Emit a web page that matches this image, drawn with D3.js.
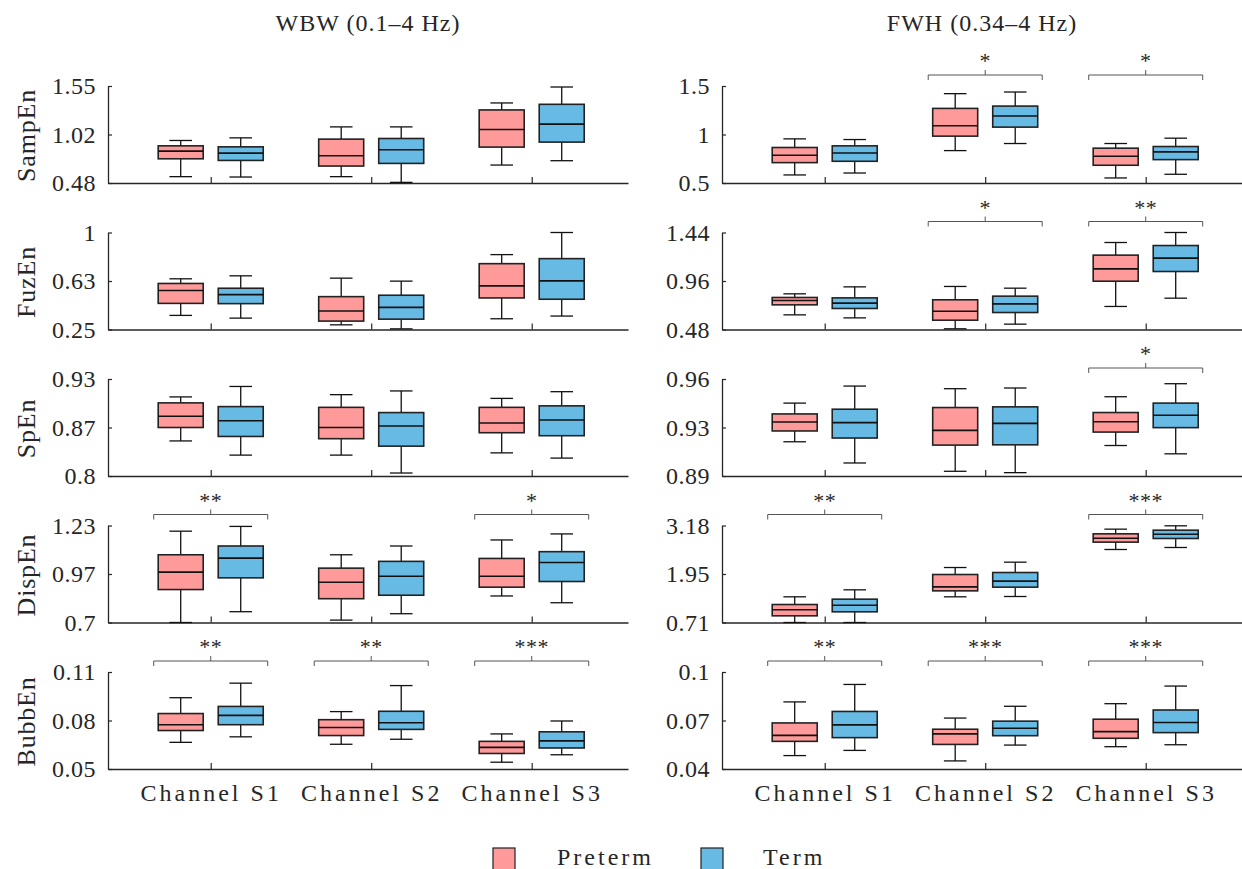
<!DOCTYPE html>
<html>
<head>
<meta charset="utf-8">
<script src="https://cdn.jsdelivr.net/npm/d3@7"></script>
<style>
  body { margin: 0; background: #fff; }
  svg text { font-family: "Liberation Serif", serif; fill: #262626; }
</style>
</head>
<body>
<div id="chart"></div>
<script>
// Categories
const channels = ["Channel S1", "Channel S2", "Channel S3"];
const groups = ["Preterm", "Term"];
const measures = ["SampEn", "FuzEn", "SpEn", "DispEn", "BubbEn"];
const bands = ["WBW (0.1–4 Hz)", "FWH (0.34–4 Hz)"];

// Y ranges and tick labels per row (min, max)
const yRangeWBW = [[0.48, 1.55], [0.25, 1], [0.8, 0.93], [0.7, 1.23], [0.05, 0.11]];
const yTicksWBW = [["0.48", "1.02", "1.55"], ["0.25", "0.63", "1"], ["0.8", "0.87", "0.93"], ["0.7", "0.97", "1.23"], ["0.05", "0.08", "0.11"]];
const yRangeFWH = [[0.5, 1.5], [0.48, 1.44], [0.89, 0.96], [0.71, 3.18], [0.04, 0.1]];
const yTicksFWH = [["0.5", "1", "1.5"], ["0.48", "0.96", "1.44"], ["0.89", "0.93", "0.96"], ["0.71", "1.95", "3.18"], ["0.04", "0.07", "0.1"]];

// Box stats: per channel [preterm, term], each [low whisker, q1, median, q3, high whisker]
const sampEnWBW = [
  [[0.550, 0.747, 0.832, 0.890, 0.949], [0.546, 0.729, 0.810, 0.879, 0.978]],
  [[0.550, 0.667, 0.780, 0.964, 1.099], [0.487, 0.696, 0.846, 0.971, 1.099]],
  [[0.678, 0.876, 1.070, 1.286, 1.363], [0.726, 0.931, 1.129, 1.348, 1.539]]
];
const fuzEnWBW = [
  [[0.359, 0.452, 0.551, 0.606, 0.642], [0.338, 0.450, 0.520, 0.569, 0.665]],
  [[0.286, 0.315, 0.393, 0.504, 0.647], [0.255, 0.330, 0.421, 0.515, 0.624]],
  [[0.333, 0.494, 0.587, 0.759, 0.829], [0.354, 0.484, 0.626, 0.798, 1.000]]
];
const spEnWBW = [
  [[0.847, 0.865, 0.880, 0.898, 0.906], [0.828, 0.853, 0.874, 0.893, 0.920]],
  [[0.828, 0.850, 0.865, 0.892, 0.909], [0.804, 0.840, 0.867, 0.885, 0.914]],
  [[0.831, 0.858, 0.871, 0.892, 0.904], [0.824, 0.854, 0.875, 0.894, 0.913]]
];
const dispEnWBW = [
  [[0.700, 0.880, 0.975, 1.070, 1.199], [0.759, 0.944, 1.052, 1.118, 1.225]],
  [[0.713, 0.830, 0.920, 0.997, 1.070], [0.748, 0.849, 0.953, 1.034, 1.118]],
  [[0.845, 0.893, 0.953, 1.050, 1.151], [0.808, 0.924, 1.028, 1.087, 1.184]]
];
const bubbEnWBW = [
  [[0.0665, 0.0738, 0.0774, 0.0843, 0.0941], [0.0699, 0.0774, 0.0832, 0.0887, 0.1031]],
  [[0.0653, 0.0707, 0.0757, 0.0805, 0.0855], [0.0684, 0.0745, 0.0786, 0.0857, 0.1016]],
  [[0.0542, 0.0596, 0.0634, 0.0671, 0.0717], [0.0588, 0.0630, 0.0674, 0.0730, 0.0797]]
];
const sampEnFWH = [
  [[0.583, 0.710, 0.786, 0.866, 0.955], [0.603, 0.724, 0.810, 0.883, 0.948]],
  [[0.834, 0.983, 1.090, 1.269, 1.421], [0.907, 1.076, 1.190, 1.293, 1.438]],
  [[0.552, 0.683, 0.776, 0.859, 0.907], [0.590, 0.741, 0.821, 0.876, 0.962]]
];
const fuzEnFWH = [
  [[0.625, 0.724, 0.767, 0.797, 0.833], [0.595, 0.688, 0.741, 0.793, 0.902]],
  [[0.487, 0.572, 0.661, 0.774, 0.906], [0.533, 0.648, 0.734, 0.810, 0.889]],
  [[0.708, 0.958, 1.080, 1.216, 1.341], [0.790, 1.054, 1.186, 1.311, 1.440]]
];
const spEnFWH = [
  [[0.9147, 0.9225, 0.9290, 0.9348, 0.9426], [0.8994, 0.9174, 0.9285, 0.9382, 0.9549]],
  [[0.8934, 0.9123, 0.9229, 0.9394, 0.9530], [0.8924, 0.9125, 0.9280, 0.9399, 0.9535]],
  [[0.9120, 0.9217, 0.9292, 0.9358, 0.9472], [0.9060, 0.9249, 0.9338, 0.9426, 0.9566]]
];
const dispEnFWH = [
  [[0.710, 0.880, 1.033, 1.168, 1.364], [0.710, 0.982, 1.151, 1.304, 1.542]],
  [[1.364, 1.516, 1.618, 1.932, 2.110], [1.372, 1.610, 1.763, 1.983, 2.246]],
  [[2.569, 2.756, 2.857, 2.968, 3.087], [2.620, 2.849, 2.959, 3.061, 3.172]]
];
const bubbEnFWH = [
  [[0.0483, 0.0571, 0.0608, 0.0685, 0.0815], [0.0515, 0.0594, 0.0673, 0.0756, 0.0923]],
  [[0.0450, 0.0552, 0.0617, 0.0646, 0.0715], [0.0548, 0.0606, 0.0652, 0.0696, 0.0788]],
  [[0.0538, 0.0590, 0.0631, 0.0708, 0.0804], [0.0550, 0.0625, 0.0688, 0.0765, 0.0913]]
];

// Significance markers per row, per channel
const sigWBW = [["", "", ""], ["", "", ""], ["", "", ""], ["**", "", "*"], ["**", "**", "***"]];
const sigFWH = [["", "*", "*"], ["", "*", "**"], ["", "", "*"], ["**", "", "***"], ["**", "***", "***"]];

const columns = [
  { title: bands[0], ranges: yRangeWBW, ticks: yTicksWBW, sig: sigWBW,
    stats: [sampEnWBW, fuzEnWBW, spEnWBW, dispEnWBW, bubbEnWBW] },
  { title: bands[1], ranges: yRangeFWH, ticks: yTicksFWH, sig: sigFWH,
    stats: [sampEnFWH, fuzEnFWH, spEnFWH, dispEnFWH, bubbEnFWH] }
];

const color = d3.scaleOrdinal().domain(groups).range(["#ff9a9a", "#66bae4"]);

const width = 1242, height = 869;
const colLeft = [108, 722];
const panelW = 520, panelH = 97;
const rowTop = r => 86 + r * 146.5;
const axisColor = "#262626";
const tickFont = 24;

const svg = d3.select("#chart").append("svg")
  .attr("width", width)
  .attr("height", height)
  .attr("viewBox", `0 0 ${width} ${height}`);

columns.forEach((col, c) => {
  const x = d3.scaleLinear().domain([0.36, 3.6]).range([colLeft[c], colLeft[c] + panelW]);
  const boxOff = 0.187, boxHalf = 22.5, capHalf = 11.3, brHalf = 57;

  // column title
  svg.append("text")
    .attr("x", colLeft[c] + panelW / 2)
    .attr("y", 31)
    .attr("text-anchor", "middle")
    .style("font-size", "24px")
    .style("letter-spacing", "1px")
    .text(col.title);

  measures.forEach((m, r) => {
    const top = rowTop(r);
    const dom = col.ranges[r];
    const y = d3.scaleLinear().domain(dom).range([top + panelH, top]);
    const g = svg.append("g");

    // y axis
    const yAxis = g.append("g")
      .attr("transform", `translate(${colLeft[c]},0)`)
      .call(d3.axisLeft(y)
        .tickValues([dom[0], (dom[0] + dom[1]) / 2, dom[1]])
        .tickFormat((d, i) => col.ticks[r][i])
        .tickSizeInner(-4).tickSizeOuter(0).tickPadding(12));

    // x axis
    const last = r === measures.length - 1;
    const xAxis = g.append("g")
      .attr("transform", `translate(0,${top + panelH})`)
      .call(d3.axisBottom(x)
        .tickValues([1, 2, 3])
        .tickFormat(i => last ? channels[i - 1] : "")
        .tickSizeInner(-6).tickSizeOuter(0).tickPadding(15));

    [yAxis, xAxis].forEach(a => {
      a.select(".domain").attr("stroke", axisColor).attr("stroke-width", 1.3);
      a.selectAll(".tick line").attr("stroke", axisColor).attr("stroke-width", 1.2);
      a.selectAll(".tick text")
        .attr("fill", axisColor)
        .style("font-family", "Liberation Serif, serif")
        .style("font-size", tickFont + "px");
    });
    yAxis.selectAll(".tick text").style("letter-spacing", "0.5px");
    xAxis.selectAll(".tick text").style("letter-spacing", "3px");

    // y label
    if (c === 0) {
      svg.append("text")
        .attr("transform", `translate(35,${top + panelH / 2 + 1}) rotate(-90)`)
        .attr("text-anchor", "middle")
        .style("font-size", "26px")
        .style("letter-spacing", "0.8px")
        .text(m);
    }

    // boxes
    col.stats[r].forEach((pair, i) => {
      pair.forEach((s, k) => {
        const cx = x(i + 1 + (k === 0 ? -boxOff : boxOff));
        const [lo, q1, med, q3, hi] = s;
        const bg = g.append("g");
        bg.append("line").attr("x1", cx).attr("x2", cx).attr("y1", y(lo)).attr("y2", y(q1));
        bg.append("line").attr("x1", cx).attr("x2", cx).attr("y1", y(q3)).attr("y2", y(hi));
        bg.append("line").attr("x1", cx - capHalf).attr("x2", cx + capHalf).attr("y1", y(lo)).attr("y2", y(lo));
        bg.append("line").attr("x1", cx - capHalf).attr("x2", cx + capHalf).attr("y1", y(hi)).attr("y2", y(hi));
        bg.selectAll("line").attr("stroke", "#111").attr("stroke-width", 1.3);
        bg.append("rect")
          .attr("x", cx - boxHalf).attr("width", boxHalf * 2)
          .attr("y", y(q3)).attr("height", y(q1) - y(q3))
          .attr("fill", color(groups[k]))
          .attr("stroke", "#222").attr("stroke-width", 1.6);
        bg.append("line")
          .attr("x1", cx - boxHalf).attr("x2", cx + boxHalf)
          .attr("y1", y(med)).attr("y2", y(med))
          .attr("stroke", "#111").attr("stroke-width", 1.6);
      });

      // significance bracket
      const star = col.sig[r][i];
      if (star) {
        const cx = x(i + 1), by = top - 11;
        g.append("path")
          .attr("d", `M${cx - brHalf},${by + 5}V${by}H${cx + brHalf}V${by + 5}M${cx},${by}V${by - 5}`)
          .attr("fill", "none")
          .attr("stroke", "#555")
          .attr("stroke-width", 1);
        g.append("text")
          .attr("x", cx).attr("y", by - 7)
          .attr("text-anchor", "middle")
          .style("font-size", "22px")
          .style("letter-spacing", "0.5px")
          .text(star);
      }
    });
  });
});

// legend
const legendPos = [{ sx: 493, tx: 557 }, { sx: 701, tx: 763 }];
groups.forEach((gname, k) => {
  svg.append("rect")
    .attr("x", legendPos[k].sx).attr("y", 848)
    .attr("width", 22).attr("height", 22)
    .attr("fill", color(gname))
    .attr("stroke", "#222").attr("stroke-width", 1.2);
  svg.append("text")
    .attr("x", legendPos[k].tx).attr("y", 865)
    .style("font-size", "24px")
    .style("letter-spacing", "3px")
    .text(gname);
});
</script>
</body>
</html>
